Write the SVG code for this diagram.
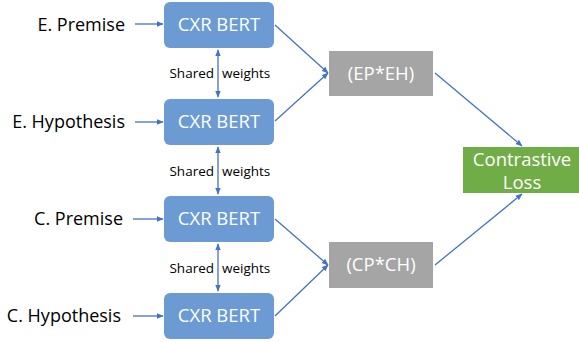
<svg xmlns="http://www.w3.org/2000/svg" width="579" height="342" viewBox="0 0 579 342">
<style>
.lbl{font-family:"Open Sans","Liberation Sans",sans-serif;font-size:18px;fill:#000;}
.sw{font-family:"Open Sans","Liberation Sans",sans-serif;font-size:13.5px;fill:#000;}
.bt{font-family:"Open Sans","Liberation Sans",sans-serif;font-size:18.5px;fill:#fff;text-anchor:middle;}
.bert{fill:#6b9bd2;}
.gray{fill:#a5a5a5;}
.green{fill:#70ad47;}
.conn line{stroke:#4472c4;stroke-width:1.3;fill:none;}
</style>
<defs>
<marker id="ah" viewBox="0 0 10 10" refX="9" refY="5" markerWidth="7" markerHeight="7" orient="auto-start-reverse" markerUnits="userSpaceOnUse">
<path d="M0,1 L10,5 L0,9 z" fill="#4472c4"/>
</marker>
</defs>
<rect width="579" height="342" fill="#fff"/>
<g id="lbl-ep"><text class="lbl" x="125" y="31" text-anchor="end">E. Premise</text></g>
<g id="lbl-eh"><text class="lbl" x="125" y="128" text-anchor="end">E. Hypothesis</text></g>
<g id="lbl-cp"><text class="lbl" x="123" y="225" text-anchor="end">C. Premise</text></g>
<g id="lbl-ch"><text class="lbl" x="121" y="322" text-anchor="end">C. Hypothesis</text></g>
<g id="bert1"><rect class="bert" x="164" y="2" width="110" height="46" rx="6"/><text class="bt" x="219" y="31">CXR BERT</text></g>
<g id="bert2"><rect class="bert" x="164" y="99" width="110" height="46" rx="6"/><text class="bt" x="219" y="128">CXR BERT</text></g>
<g id="bert3"><rect class="bert" x="164" y="196" width="110" height="46" rx="6"/><text class="bt" x="219" y="225">CXR BERT</text></g>
<g id="bert4"><rect class="bert" x="164" y="293" width="110" height="46" rx="6"/><text class="bt" x="219" y="322">CXR BERT</text></g>
<g id="sw1"><text class="sw" x="214" y="78" text-anchor="end">Shared</text><text class="sw" x="222" y="78">weights</text></g>
<g id="sw2"><text class="sw" x="214" y="176" text-anchor="end">Shared</text><text class="sw" x="222" y="176">weights</text></g>
<g id="sw3"><text class="sw" x="214" y="273" text-anchor="end">Shared</text><text class="sw" x="222" y="273">weights</text></g>
<g id="ep-eh"><rect class="gray" x="329" y="51" width="104" height="45"/><text class="bt" x="381" y="80">(EP*EH)</text></g>
<g id="cp-ch"><rect class="gray" x="329" y="242" width="104" height="46"/><text class="bt" x="381" y="271">(CP*CH)</text></g>
<g id="loss"><rect class="green" x="463" y="147" width="116" height="46"/><text class="bt" x="522" y="166">Contrastive</text><text class="bt" x="522" y="189">Loss</text></g>
<g id="connectors" class="conn">
<line x1="135" y1="24" x2="163" y2="24" marker-end="url(#ah)"/>
<line x1="135" y1="122" x2="163" y2="122" marker-end="url(#ah)"/>
<line x1="133" y1="219" x2="163" y2="219" marker-end="url(#ah)"/>
<line x1="133" y1="316" x2="163" y2="316" marker-end="url(#ah)"/>
<line x1="218" y1="50" x2="218" y2="97" marker-start="url(#ah)" marker-end="url(#ah)"/>
<line x1="218" y1="147" x2="218" y2="194" marker-start="url(#ah)" marker-end="url(#ah)"/>
<line x1="218" y1="244" x2="218" y2="291" marker-start="url(#ah)" marker-end="url(#ah)"/>
<line x1="275" y1="25" x2="328" y2="73" marker-end="url(#ah)"/>
<line x1="275" y1="121" x2="328" y2="73" marker-end="url(#ah)"/>
<line x1="275" y1="219" x2="328" y2="265" marker-end="url(#ah)"/>
<line x1="275" y1="316" x2="328" y2="265" marker-end="url(#ah)"/>
<line x1="435" y1="73" x2="522" y2="146" marker-end="url(#ah)"/>
<line x1="435" y1="265" x2="522" y2="194" marker-end="url(#ah)"/>
</g>
</svg>
